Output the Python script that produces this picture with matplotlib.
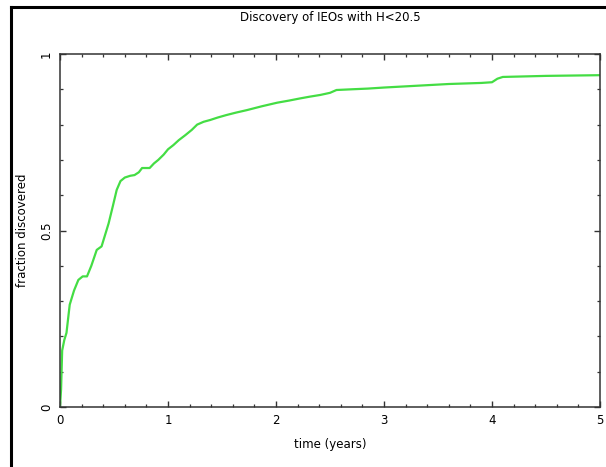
import numpy as np
import matplotlib
matplotlib.use('Agg')
import matplotlib.pyplot as plt
from matplotlib.lines import Line2D
from matplotlib.ticker import MultipleLocator

# fraccion descubierta vs tiempo
tiempo = [0, 0.01, 0.02, 0.04, 0.06, 0.09, 0.13, 0.17, 0.21, 0.25, 0.29, 0.34,
          0.385, 0.42, 0.45, 0.49, 0.525, 0.56, 0.60, 0.65, 0.69, 0.73, 0.76,
          0.80, 0.83, 0.87, 0.91, 0.96, 1.0, 1.05, 1.10, 1.16, 1.22, 1.27, 1.33,
          1.39, 1.46, 1.54, 1.63, 1.73, 1.87, 2.01, 2.12, 2.22, 2.31, 2.41, 2.50,
          2.56, 2.70, 2.85, 3.0, 3.3, 3.6, 3.9, 4.0, 4.05, 4.1, 4.5, 5.0]
fraccion = [0, 0.05, 0.16, 0.19, 0.21, 0.29, 0.33, 0.36, 0.37, 0.37, 0.40, 0.445,
            0.455, 0.49, 0.52, 0.57, 0.615, 0.64, 0.65, 0.655, 0.657, 0.665, 0.677,
            0.677, 0.677, 0.69, 0.70, 0.715, 0.73, 0.742, 0.756, 0.77, 0.785, 0.80,
            0.808, 0.813, 0.82, 0.827, 0.834, 0.841, 0.852, 0.862, 0.868, 0.874,
            0.879, 0.884, 0.89, 0.898, 0.90, 0.902, 0.905, 0.91, 0.915, 0.918,
            0.92, 0.93, 0.935, 0.938, 0.94]

xticks = [0, 1, 2, 3, 4, 5]
yticks = [0, 0.5, 1]
ylabels = ['0', '0.5', '1']

fig = plt.figure(figsize=(6.06, 4.67), dpi=100)
ax = fig.add_axes([60/606, 1 - 407/467, 540/606, 353/467])

ax.plot(tiempo, fraccion, color='#44dd44', lw=1.6)

ax.set_xlim(0, 5)
ax.set_ylim(0, 1)
ax.set_xticks(xticks)
ax.set_xticklabels([str(v) for v in xticks])
ax.set_yticks(yticks)
ax.set_yticklabels(ylabels, rotation=90, va='center')
ax.xaxis.set_minor_locator(MultipleLocator(0.2))
ax.yaxis.set_minor_locator(MultipleLocator(0.1))
ax.tick_params(which='both', direction='in', top=True, right=True,
               color='#333333', labelsize=8.5)
ax.tick_params(which='major', length=4.5, width=1.0, pad=5)
ax.tick_params(which='minor', length=2.5, width=0.9)
for s in ax.spines.values():
    s.set_linewidth(1.1)
    s.set_color('#333333')

ax.set_title('Discovery of IEOs with H<20.5', fontsize=8.5, pad=24)
ax.set_xlabel('time (years)', fontsize=8.5, labelpad=8)
ax.set_ylabel('fraction discovered', fontsize=8.5, labelpad=8)

# marco exterior (solo izquierda y arriba visibles)
fig.add_artist(Line2D([11/606, 11/606], [0, 1 - 7/467], color='black', lw=2.2,
                      transform=fig.transFigure))
fig.add_artist(Line2D([11/606, 1], [1 - 7/467, 1 - 7/467], color='black', lw=2.2,
                      transform=fig.transFigure))

fig.savefig('out.png', dpi=100)
